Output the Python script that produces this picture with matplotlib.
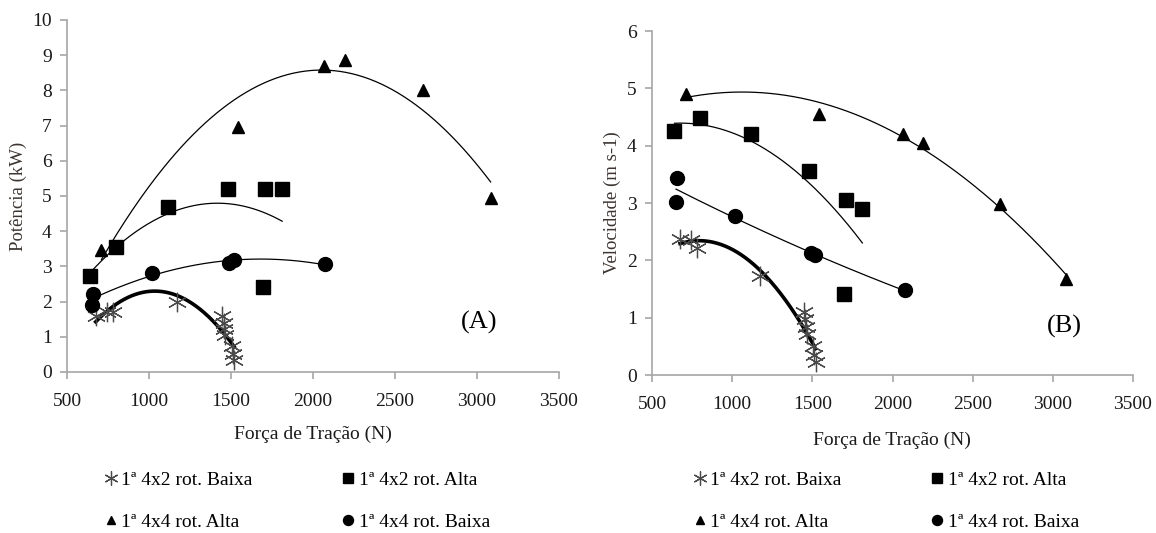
import numpy as np
import matplotlib.pyplot as plt

plt.rcParams['font.family'] = ['Liberation Serif', 'DejaVu Serif']

# Força de tração (N) e valores
f_4x2_baixa = [675, 745, 780, 1172, 1448, 1455, 1460, 1465, 1505, 1512, 1520]
p_4x2_baixa = [1.60, 1.70, 1.70, 2.00, 1.60, 1.40, 1.22, 1.05, 0.75, 0.52, 0.33]
v_4x2_baixa = [2.38, 2.36, 2.22, 1.72, 1.10, 0.97, 0.84, 0.72, 0.50, 0.35, 0.22]

f_4x2_alta = [640, 800, 1115, 1480, 1708, 1812, 1697]
p_4x2_alta = [2.73, 3.54, 4.70, 5.20, 5.20, 5.20, 2.41]
v_4x2_alta = [4.26, 4.48, 4.20, 3.55, 3.06, 2.90, 1.42]

f_4x4_alta = [710, 1540, 2068, 2193, 2672, 3083]
p_4x4_alta = [3.46, 6.96, 8.69, 8.86, 8.00, 4.94]
v_4x4_alta = [4.90, 4.55, 4.20, 4.04, 2.98, 1.67]

f_4x4_baixa = [656, 650, 1016, 1490, 1516, 2076]
p_4x4_baixa = [2.22, 1.90, 2.82, 3.11, 3.17, 3.06]
v_4x4_baixa = [3.44, 3.02, 2.78, 2.12, 2.09, 1.48]

labels = ["1ª 4x2 rot. Baixa", "1ª 4x4 rot. Alta",
          "1ª 4x2 rot. Alta", "1ª 4x4 rot. Baixa"]

series = [
    # forca, potencia, velocidade, marcador, tamanho, espessura da tendência
    (f_4x2_baixa, p_4x2_baixa, v_4x2_baixa, (6, 2, 0), 14, 2.6),
    (f_4x2_alta, p_4x2_alta, v_4x2_alta, 's', 10.5, 0.9),
    (f_4x4_alta, p_4x4_alta, v_4x4_alta, '^', 8.5, 0.9),
    (f_4x4_baixa, p_4x4_baixa, v_4x4_baixa, 'o', 10, 0.9),
]

fig = plt.figure(figsize=(11.56, 5.33), dpi=100)
ax1 = fig.add_axes([67 / 1156, 1 - 372 / 533, 492 / 1156, 352 / 533])
ax2 = fig.add_axes([652 / 1156, 1 - 375 / 533, 481 / 1156, 344 / 533])

gray = '#a6a6a6'


def desenha(ax, idx, ymax, ylabel, letra, letra_pos, leg_x):
    handles = {}
    for k, s in enumerate(series):
        f = np.array(s[0], dtype=float)
        y = np.array(s[idx], dtype=float)
        mk = s[3]
        if k == 0:
            h, = ax.plot(f, y, ls='none', marker=mk, ms=s[4], mec='#4a4a4a',
                         mfc='none', mew=0.9, zorder=3)
        else:
            h, = ax.plot(f, y, ls='none', marker=mk, ms=s[4], mec='black',
                         mfc='black', zorder=3)
        handles[k] = h
        # linha de tendência polinomial (2º grau)
        c = np.polyfit(f, y, 2)
        xx = np.linspace(f.min(), f.max(), 200)
        ax.plot(xx, np.polyval(c, xx), color='black', lw=s[5], zorder=2)

    ax.set_xlim(500, 3500)
    ax.set_ylim(0, ymax)
    ax.set_xticks(range(500, 3501, 500))
    ax.set_yticks(range(0, ymax + 1))
    for side in ('top', 'right'):
        ax.spines[side].set_visible(False)
    for side in ('left', 'bottom'):
        ax.spines[side].set_color(gray)
        ax.spines[side].set_linewidth(1.2)
    ax.tick_params(direction='out', length=5, width=1.2, color=gray,
                   labelsize=14, labelcolor='#1a1a1a')
    ax.tick_params(axis='x', pad=10)
    ax.tick_params(axis='y', pad=6)
    ax.set_ylabel(ylabel, fontsize=13.5, color='#3b3430', labelpad=4)
    ax.text(letra_pos[0], letra_pos[1], letra, fontsize=19, ha='center',
            va='center')

    hs = [handles[0], handles[2], handles[1], handles[3]]
    ax.legend(hs, labels, ncol=2, loc='upper left',
              bbox_to_anchor=(leg_x, 1 - 471 / 533),
              bbox_transform=fig.transFigure, frameon=False, fontsize=14,
              handlelength=0.8, handletextpad=0.15, columnspacing=4.5,
              labelspacing=1.28, borderpad=0, borderaxespad=0,
              markerscale=0.72)


desenha(ax1, 1, 10, "Potência (kW)", "(A)", (3010, 1.42), 103 / 1156)
desenha(ax2, 2, 6, "Velocidade (m s-1)", "(B)", (3075, 0.84), 692 / 1156)

fig.text(313 / 1156, 1 - 434 / 533, "Força de Tração (N)", fontsize=14,
         ha='center', va='center', color='#1a1a1a')
fig.text(892 / 1156, 1 - 440 / 533, "Força de Tração (N)", fontsize=14,
         ha='center', va='center', color='#1a1a1a')

fig.savefig("out.png", dpi=100)
